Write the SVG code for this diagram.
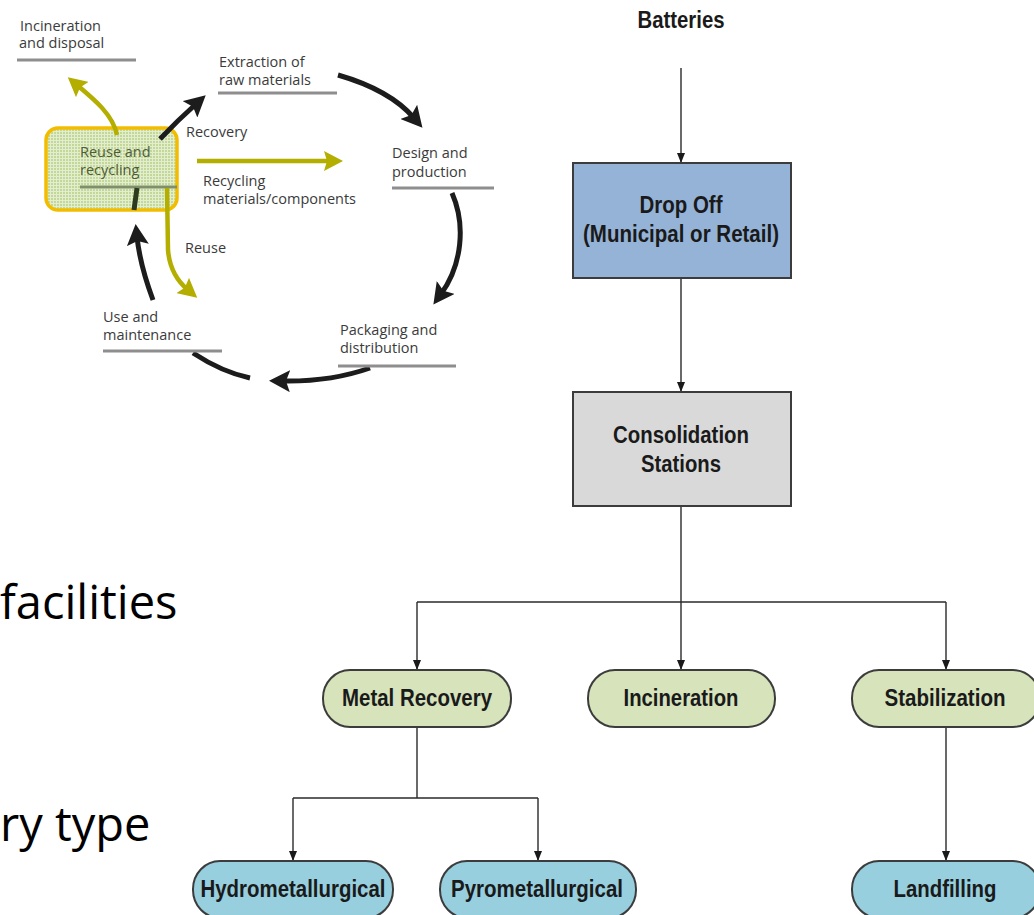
<svg xmlns="http://www.w3.org/2000/svg" width="1034" height="915" viewBox="0 0 1034 915">
  <defs>
    <style>
      .lbl{font-family:"Open Sans","Liberation Sans",sans-serif;font-size:14.5px;fill:#3b3b3b}
      .lbl-in{font-family:"Open Sans","Liberation Sans",sans-serif;font-size:14.5px;fill:#4f5c38}
      .ul{stroke:#8e8e8e;stroke-width:3}
      .cyc{fill:none;stroke:#1c1c1c;stroke-width:5}
      .ylw{fill:none;stroke:#b3ae00;stroke-width:4.5}
      .box{stroke:#3c3c3c;stroke-width:2}
      .ft{font-family:"Liberation Sans",Arial,sans-serif;font-weight:bold;font-size:23px;fill:#1a1a1a;text-anchor:middle}
      .conn{fill:none;stroke:#2a2a2a;stroke-width:1.4}
      .big{font-family:"Open Sans","Liberation Sans",sans-serif;font-size:47px;fill:#000}
      .green{fill:#d6e3bb}
      .cyan{fill:#97cfdf}
    </style>
    <marker id="tip" markerUnits="userSpaceOnUse" markerWidth="10" markerHeight="8" refX="10" refY="4" orient="auto">
      <path d="M0,0 L10,4 L0,8 z" fill="#1a1a1a"/>
    </marker>
    <marker id="headK" markerUnits="userSpaceOnUse" markerWidth="22" markerHeight="22" refX="8" refY="11" orient="auto">
      <path d="M0,0 L21,11 L0,22 L4,11 z" fill="#1c1c1c"/>
    </marker>
    <marker id="headY" markerUnits="userSpaceOnUse" markerWidth="20" markerHeight="20" refX="7" refY="10" orient="auto">
      <path d="M0,0 L19,10 L0,20 L3,10 z" fill="#b3ae00"/>
    </marker>
    <pattern id="mesh" width="3" height="3" patternUnits="userSpaceOnUse">
      <rect width="3" height="3" fill="#e3eed0"/>
      <rect width="2" height="2" fill="#c3d897"/>
    </pattern>
  </defs>

  <rect width="1034" height="915" fill="#ffffff"/>

  <!-- product life-cycle sketch -->
  <g id="cycle-arrows">
    <path class="cyc" d="M193,353 Q222,372 250,378"/>
    <path class="cyc" d="M370,368 Q330,382 282,381" marker-end="url(#headK)"/>
    <path class="cyc" d="M153,300 Q140,265 137,237" marker-end="url(#headK)"/>
    <path class="cyc" d="M338,75 Q390,90 414,118" marker-end="url(#headK)"/>
    <path class="cyc" d="M452,193 C466,225 462,265 441,294" marker-end="url(#headK)"/>
  </g>

  <g id="cycle-reuse">
    <rect x="46" y="128" width="131" height="82" rx="12" fill="url(#mesh)" stroke="#f2bd00" stroke-width="3.5"/>
    <text class="lbl-in" x="80" y="157">Reuse and</text>
    <text class="lbl-in" x="80" y="175">recycling</text>
    <line x1="80" y1="187" x2="177" y2="187" stroke="#7f8f6a" stroke-width="3"/>
    <path d="M137,188 L134,210" stroke="#2e3a1e" stroke-width="5" fill="none"/>
  </g>

  <g id="cycle-flows">
    <path class="cyc" d="M160,139 Q178,120 196,104" marker-end="url(#headK)"/>
    <path class="ylw" d="M117,135 C113,115 95,100 77,85" marker-end="url(#headY)"/>
    <path class="ylw" d="M197,161 L331,161" marker-end="url(#headY)"/>
    <path class="ylw" d="M167,188 L168,250 Q170,275 188,290" marker-end="url(#headY)"/>
  </g>

  <g id="lbl-incineration">
    <text class="lbl" x="20" y="31">Incineration</text>
    <text class="lbl" x="19" y="48">and disposal</text>
    <line class="ul" x1="17" y1="60" x2="136" y2="60"/>
  </g>
  <g id="lbl-extraction">
    <text class="lbl" x="219" y="67">Extraction of</text>
    <text class="lbl" x="219" y="85">raw materials</text>
    <line class="ul" x1="218" y1="93" x2="337" y2="93"/>
  </g>
  <g id="lbl-design">
    <text class="lbl" x="392" y="158">Design and</text>
    <text class="lbl" x="392" y="177">production</text>
    <line class="ul" x1="392" y1="188" x2="494" y2="188"/>
  </g>
  <g id="lbl-packaging">
    <text class="lbl" x="340" y="335">Packaging and</text>
    <text class="lbl" x="340" y="353">distribution</text>
    <line class="ul" x1="338" y1="366" x2="456" y2="366"/>
  </g>
  <g id="lbl-use">
    <text class="lbl" x="103" y="322">Use and</text>
    <text class="lbl" x="103" y="340">maintenance</text>
    <line class="ul" x1="103" y1="351" x2="222" y2="351"/>
  </g>
  <g id="lbl-flows">
    <text class="lbl" x="186" y="137">Recovery</text>
    <text class="lbl" x="203" y="186">Recycling</text>
    <text class="lbl" x="203" y="204">materials/components</text>
    <text class="lbl" x="185" y="253">Reuse</text>
  </g>

  <!-- slide text running off the left edge -->
  <text class="big" x="0" y="619">facilities</text>
  <text class="big" x="0" y="841">ry type</text>

  <!-- battery flow chart -->
  <g id="connectors">
    <path class="conn" d="M681,68 L681,163" marker-end="url(#tip)"/>
    <path class="conn" d="M681,278 L681,392" marker-end="url(#tip)"/>
    <path class="conn" d="M681,506 L681,670" marker-end="url(#tip)"/>
    <path class="conn" d="M417,602 L946,602"/>
    <path class="conn" d="M417,602 L417,670" marker-end="url(#tip)"/>
    <path class="conn" d="M946,602 L946,670" marker-end="url(#tip)"/>
    <path class="conn" d="M417,727 L417,798"/>
    <path class="conn" d="M293,798 L538,798"/>
    <path class="conn" d="M293,798 L293,861" marker-end="url(#tip)"/>
    <path class="conn" d="M538,798 L538,861" marker-end="url(#tip)"/>
    <path class="conn" d="M946,727 L946,861" marker-end="url(#tip)"/>
  </g>

  <g id="batteries">
    <text class="ft" x="681" y="28" textLength="87" lengthAdjust="spacingAndGlyphs">Batteries</text>
  </g>
  <g id="drop-off">
    <rect class="box" x="573" y="163" width="218" height="115" fill="#95b3d7"/>
    <text class="ft" x="681" y="213" textLength="83" lengthAdjust="spacingAndGlyphs">Drop Off</text>
    <text class="ft" x="681" y="242" textLength="196" lengthAdjust="spacingAndGlyphs">(Municipal or Retail)</text>
  </g>
  <g id="consolidation">
    <rect class="box" x="573" y="392" width="218" height="114" fill="#d9d9d9"/>
    <text class="ft" x="681" y="443" textLength="136" lengthAdjust="spacingAndGlyphs">Consolidation</text>
    <text class="ft" x="681" y="472" textLength="80" lengthAdjust="spacingAndGlyphs">Stations</text>
  </g>
  <g id="metal-recovery">
    <rect class="box green" x="323" y="670" width="188" height="57" rx="27" ry="28"/>
    <text class="ft" x="417" y="706" textLength="150" lengthAdjust="spacingAndGlyphs">Metal Recovery</text>
  </g>
  <g id="incineration">
    <rect class="box green" x="588" y="670" width="187" height="57" rx="27" ry="28"/>
    <text class="ft" x="681" y="706" textLength="115" lengthAdjust="spacingAndGlyphs">Incineration</text>
  </g>
  <g id="stabilization">
    <rect class="box green" x="852" y="670" width="188" height="57" rx="27" ry="28"/>
    <text class="ft" x="945" y="706" textLength="121" lengthAdjust="spacingAndGlyphs">Stabilization</text>
  </g>
  <g id="hydrometallurgical">
    <rect class="box cyan" x="193" y="861" width="200" height="57" rx="27" ry="28"/>
    <text class="ft" x="293" y="897" textLength="185" lengthAdjust="spacingAndGlyphs">Hydrometallurgical</text>
  </g>
  <g id="pyrometallurgical">
    <rect class="box cyan" x="440" y="861" width="196" height="57" rx="27" ry="28"/>
    <text class="ft" x="537" y="897" textLength="172" lengthAdjust="spacingAndGlyphs">Pyrometallurgical</text>
  </g>
  <g id="landfilling">
    <rect class="box cyan" x="852" y="861" width="188" height="57" rx="27" ry="28"/>
    <text class="ft" x="945" y="897" textLength="103" lengthAdjust="spacingAndGlyphs">Landfilling</text>
  </g>
</svg>
